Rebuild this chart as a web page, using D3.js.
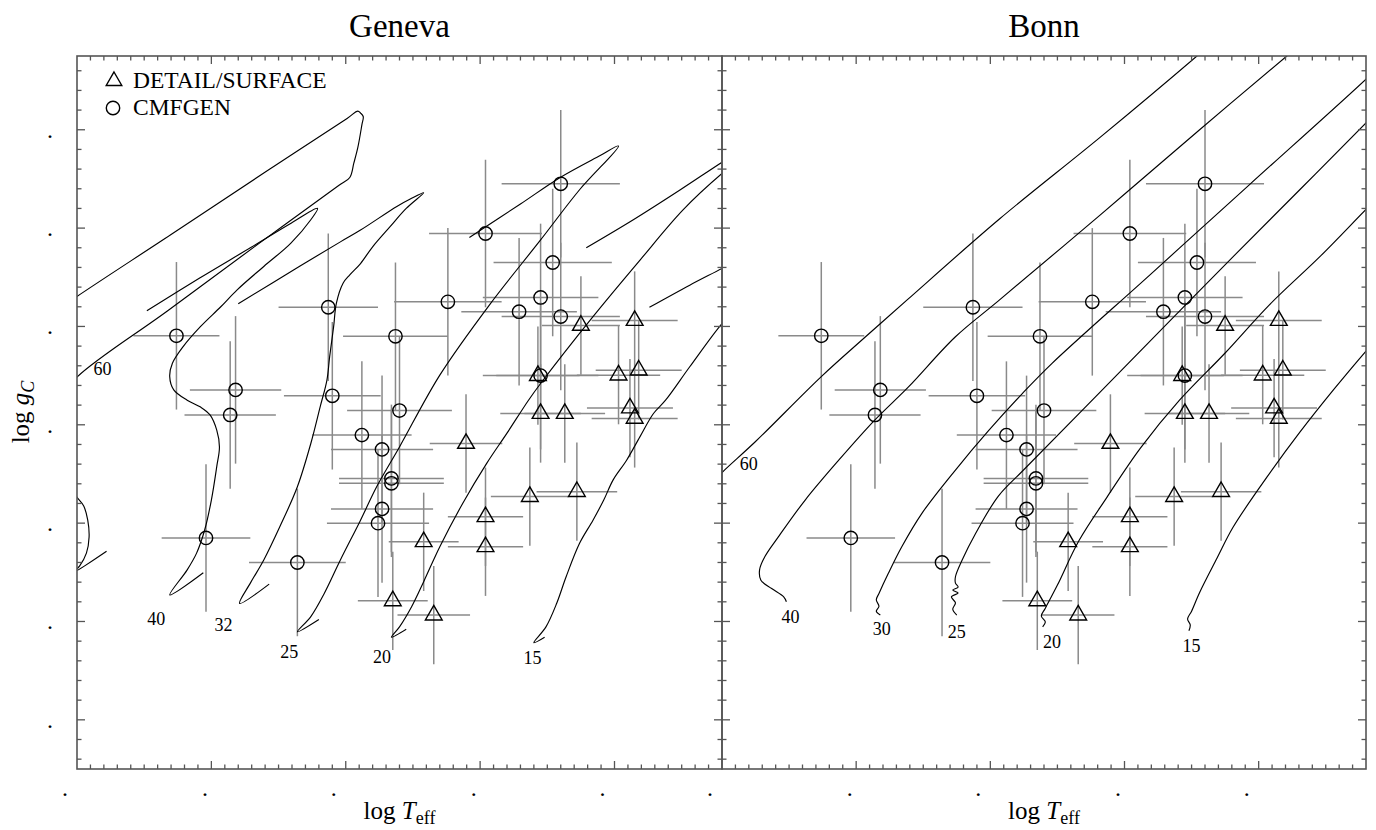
<!DOCTYPE html>
<html>
<head>
<meta charset="utf-8">
<script src="https://cdn.jsdelivr.net/npm/d3@7"></script>
<style>
body { margin: 0; background: #fff; }
text { font-family: "Liberation Serif", "DejaVu Serif", serif; fill: #000; }
.frame { fill: none; stroke: #555; stroke-width: 1.6; }
.tick { stroke: #555; stroke-width: 1.3; }
.track { fill: none; stroke: #000; stroke-width: 1.15; }
.err { stroke: #8a8a8a; stroke-width: 1.5; }
.mark { fill: none; stroke: #000; stroke-width: 1.4; }
</style>
</head>
<body>
<script>
// axis domains and ticks
const logTeffDomain = [4.70, 4.22];
const logGDomain = [4.5, 3.05];
const xMajorTicks = [4.7, 4.6, 4.5, 4.4, 4.3];
const yMajorTicks = [3.2, 3.4, 3.6, 3.8, 4.0, 4.2, 4.4];
const xTickLabels = [".", ".", ".", ".", "."];
const yTickLabels = [".", ".", ".", ".", ".", ".", "."];

// CMFGEN (circles)
const cmfgenTeff = [4.626, 4.582, 4.586, 4.604, 4.536, 4.513, 4.510, 4.463, 4.488, 4.473, 4.466, 4.466,
    4.473, 4.476, 4.460, 4.424, 4.396, 4.371, 4.355, 4.346, 4.340, 4.340, 4.355];
const cmfgenLogg = [3.619, 3.729, 3.780, 4.030, 4.080, 3.561, 3.741, 3.620, 3.821, 3.850, 3.909, 3.919,
    3.971, 4.000, 3.771, 3.550, 3.411, 3.570, 3.541, 3.470, 3.310, 3.580, 3.700];
const cmfgenTeffErr = [0.032, 0.034, 0.034, 0.033, 0.036, 0.037, 0.036, 0.039, 0.037, 0.038, 0.039, 0.039,
    0.038, 0.038, 0.039, 0.040, 0.042, 0.043, 0.043, 0.044, 0.044, 0.044, 0.043];
const cmfgenLoggErr = 0.15;

// DETAIL/SURFACE (triangles)
const detailTeff = [4.325, 4.285, 4.297, 4.282, 4.357, 4.355, 4.337, 4.2885, 4.285, 4.4105, 4.363, 4.328,
    4.396, 4.396, 4.442, 4.465, 4.4345];
const detailLogg = [3.598, 3.588, 3.699, 3.689, 3.700, 3.777, 3.777, 3.766, 3.787, 3.838, 3.946, 3.936,
    3.987, 4.048, 4.038, 4.158, 4.187];
const detailTeffErr = [0.029, 0.032, 0.031, 0.032, 0.031, 0.030, 0.030, 0.032, 0.032, 0.027, 0.029, 0.030,
    0.028, 0.028, 0.026, 0.026, 0.027];
const detailLoggErr = 0.10;

// Geneva tracks [logTeff, log g]
const genevaMasses = ["60", "40", "32", "25", "20", "15"];
const genevaLabelPos = [[4.681, 3.685], [4.641, 4.194], [4.591, 4.207], [4.542, 4.261], [4.473, 4.272], [4.361, 4.273]];
const genevaTrack60 = [[4.678, 4.057], [4.702, 4.099], [4.698, 4.087], [4.693, 4.061], [4.691, 4.028], [4.692, 3.994],
    [4.695, 3.965], [4.701, 3.943], [4.716, 3.831], [4.713, 3.750], [4.700, 3.703], [4.633, 3.569], [4.565, 3.432],
    [4.505, 3.313], [4.497, 3.297], [4.494, 3.268], [4.491, 3.236], [4.488, 3.190], [4.487, 3.173], [4.489, 3.166],
    [4.491, 3.162], [4.499, 3.177], [4.561, 3.288], [4.630, 3.413], [4.700, 3.539], [4.713, 3.564]];
const genevaTrack40 = [[4.606, 4.101], [4.631, 4.146], [4.618, 4.095], [4.611, 4.061], [4.605, 4.014], [4.600, 3.953],
    [4.596, 3.885], [4.594, 3.845], [4.596, 3.811], [4.601, 3.780], [4.608, 3.764], [4.618, 3.750], [4.628, 3.729],
    [4.631, 3.702], [4.629, 3.675], [4.621, 3.641], [4.608, 3.600], [4.593, 3.560], [4.581, 3.526], [4.561, 3.478],
    [4.541, 3.431], [4.526, 3.383], [4.521, 3.360], [4.542, 3.392], [4.571, 3.440], [4.609, 3.502], [4.648, 3.568]];
const genevaTrack32 = [[4.557, 4.124], [4.579, 4.163], [4.571, 4.122], [4.561, 4.075], [4.549, 4.007], [4.536, 3.926],
    [4.526, 3.838], [4.519, 3.763], [4.514, 3.709], [4.512, 3.662], [4.509, 3.600], [4.507, 3.553], [4.502, 3.512],
    [4.497, 3.495], [4.489, 3.472], [4.480, 3.438], [4.467, 3.397], [4.455, 3.360], [4.442, 3.328], [4.452, 3.341],
    [4.462, 3.356], [4.489, 3.404], [4.504, 3.428], [4.534, 3.477], [4.580, 3.554]];
const genevaTrack25 = [[4.520, 4.196], [4.536, 4.221], [4.526, 4.190], [4.516, 4.143], [4.504, 4.075], [4.489, 3.994],
    [4.477, 3.926], [4.460, 3.845], [4.430, 3.699], [4.393, 3.556], [4.355, 3.424], [4.326, 3.322], [4.297, 3.233],
    [4.311, 3.253], [4.341, 3.298], [4.370, 3.351], [4.408, 3.419]];
const genevaTrack20 = [[4.455, 4.216], [4.466, 4.232], [4.460, 4.211], [4.451, 4.170], [4.442, 4.119], [4.430, 4.048],
    [4.413, 3.960], [4.395, 3.878], [4.380, 3.817], [4.364, 3.750], [4.355, 3.716], [4.316, 3.580], [4.281, 3.465],
    [4.249, 3.363], [4.220, 3.289], [4.203, 3.253], [4.192, 3.231], [4.203, 3.237], [4.220, 3.266], [4.251, 3.322],
    [4.286, 3.383], [4.321, 3.440]];
const genevaTrack15 = [[4.352, 4.232], [4.360, 4.243], [4.351, 4.211], [4.343, 4.163], [4.336, 4.109], [4.326, 4.041],
    [4.316, 3.994], [4.308, 3.953], [4.301, 3.912], [4.291, 3.872], [4.281, 3.824], [4.271, 3.777], [4.262, 3.750],
    [4.244, 3.682], [4.220, 3.594], [4.203, 3.546], [4.192, 3.526], [4.203, 3.457], [4.220, 3.482], [4.244, 3.516],
    [4.274, 3.561]];

// Bonn tracks
const bonnMasses = ["60", "40", "30", "25", "20", "15"];
const bonnLabelPos = [[4.680, 3.880], [4.649, 4.190], [4.581, 4.214], [4.525, 4.221], [4.454, 4.242], [4.350, 4.250]];
const bonnTrack60 = [[4.716, 3.941], [4.700, 3.897], [4.675, 3.834], [4.626, 3.702], [4.593, 3.621], [4.562, 3.546],
    [4.493, 3.381], [4.418, 3.215], [4.346, 3.050], [4.333, 3.019]];
const bonnTrack40 = [[4.652, 4.160], [4.654, 4.150], [4.663, 4.133], [4.671, 4.116], [4.672, 4.095], [4.668, 4.068],
    [4.658, 4.028], [4.638, 3.953], [4.613, 3.872], [4.586, 3.790], [4.561, 3.723], [4.526, 3.621], [4.494, 3.548],
    [4.418, 3.373], [4.344, 3.200], [4.279, 3.050], [4.269, 3.028]];
const bonnTrack30 = [[4.582, 4.187], [4.585, 4.179], [4.583, 4.169], [4.585, 4.156], [4.583, 4.143], [4.576, 4.102],
    [4.566, 4.048], [4.551, 3.980], [4.526, 3.892], [4.501, 3.811], [4.476, 3.736], [4.454, 3.675], [4.381, 3.495],
    [4.307, 3.312], [4.220, 3.097], [4.210, 3.070]];
const bonnTrack25 = [[4.525, 4.187], [4.528, 4.175], [4.526, 4.162], [4.529, 4.150], [4.524, 4.142], [4.528, 4.136],
    [4.524, 4.130], [4.526, 4.122], [4.526, 4.109], [4.521, 4.075], [4.511, 4.021], [4.494, 3.945], [4.476, 3.894],
    [4.418, 3.733], [4.344, 3.527], [4.269, 3.321], [4.220, 3.186], [4.210, 3.158]];
const bonnTrack20 = [[4.461, 4.211], [4.459, 4.201], [4.462, 4.189], [4.459, 4.173], [4.450, 4.126], [4.434, 4.036],
    [4.413, 3.947], [4.388, 3.847], [4.359, 3.750], [4.325, 3.654], [4.292, 3.556], [4.254, 3.457], [4.220, 3.362],
    [4.210, 3.335]];
const bonnTrack15 = [[4.352, 4.219], [4.351, 4.207], [4.353, 4.195], [4.350, 4.179], [4.344, 4.141], [4.331, 4.071],
    [4.319, 4.008], [4.294, 3.907], [4.269, 3.814], [4.244, 3.728], [4.220, 3.650], [4.210, 3.619]];

const legendLabels = ["DETAIL/SURFACE", "CMFGEN"];

// layout
const width = 1376, height = 830;
const plotTop = 56, plotBottom = 769;
const panels = [
    { title: "Geneva", left: 77, right: 722, masses: genevaMasses, labelPos: genevaLabelPos,
      tracks: [genevaTrack60, genevaTrack40, genevaTrack32, genevaTrack25, genevaTrack20, genevaTrack15] },
    { title: "Bonn", left: 722, right: 1366, masses: bonnMasses, labelPos: bonnLabelPos,
      tracks: [bonnTrack60, bonnTrack40, bonnTrack30, bonnTrack25, bonnTrack20, bonnTrack15] }
];

const svg = d3.select("body").append("svg")
    .attr("width", width)
    .attr("height", height);
svg.append("rect").attr("width", width).attr("height", height).attr("fill", "#fff");

const cmfgen = cmfgenTeff.map((t, i) => ({ t: t, g: cmfgenLogg[i], et: cmfgenTeffErr[i], eg: cmfgenLoggErr }));
const detail = detailTeff.map((t, i) => ({ t: t, g: detailLogg[i], et: detailTeffErr[i], eg: detailLoggErr }));

const xMinor = d3.range(1, 48).map(i => +(logTeffDomain[0] - i * 0.01).toFixed(3));
const yMinor = d3.range(0, 36).map(i => +(3.08 + i * 0.04).toFixed(3));
const isMajor = (v, list) => list.some(m => Math.abs(m - v) < 1e-6);

const triangle = d3.symbol().type(d3.symbolTriangle).size(122);

panels.forEach(function (p, pi) {
    const x = d3.scaleLinear().domain(logTeffDomain).range([p.left, p.right]);
    const y = d3.scaleLinear().domain(logGDomain).range([plotBottom, plotTop]);

    const clipId = "clip" + pi;
    svg.append("clipPath").attr("id", clipId)
        .append("rect")
        .attr("x", p.left).attr("y", plotTop)
        .attr("width", p.right - p.left).attr("height", plotBottom - plotTop);

    const g = svg.append("g").attr("clip-path", "url(#" + clipId + ")");

    // error bars
    const allPts = cmfgen.concat(detail);
    g.selectAll(null).data(allPts).enter().append("line")
        .attr("class", "err")
        .attr("x1", d => x(d.t + d.et)).attr("x2", d => x(d.t - d.et))
        .attr("y1", d => y(d.g)).attr("y2", d => y(d.g));
    g.selectAll(null).data(allPts).enter().append("line")
        .attr("class", "err")
        .attr("x1", d => x(d.t)).attr("x2", d => x(d.t))
        .attr("y1", d => y(d.g - d.eg)).attr("y2", d => y(d.g + d.eg));

    // evolutionary tracks
    const line = d3.line()
        .x(d => x(d[0]))
        .y(d => y(d[1]))
        .curve(d3.curveCatmullRom.alpha(0.5));
    p.tracks.forEach(function (tr) {
        g.append("path").attr("class", "track").attr("d", line(tr));
    });

    // markers
    g.selectAll(null).data(cmfgen).enter().append("circle")
        .attr("class", "mark")
        .attr("cx", d => x(d.t)).attr("cy", d => y(d.g)).attr("r", 6.7);
    g.selectAll(null).data(detail).enter().append("path")
        .attr("class", "mark")
        .attr("d", triangle)
        .attr("transform", d => "translate(" + x(d.t) + "," + y(d.g) + ")");

    // mass labels
    svg.selectAll(null).data(p.masses).enter().append("text")
        .attr("x", (d, i) => x(p.labelPos[i][0]))
        .attr("y", (d, i) => y(p.labelPos[i][1]))
        .attr("dy", "0.35em")
        .attr("text-anchor", "middle")
        .style("font-size", "18px")
        .text(d => d);

    // frame
    svg.append("rect").attr("class", "frame")
        .attr("x", p.left).attr("y", plotTop)
        .attr("width", p.right - p.left).attr("height", plotBottom - plotTop);

    // x ticks (top & bottom, inward)
    xMinor.forEach(function (v) {
        const len = isMajor(v, xMajorTicks) ? 8 : 4.5;
        svg.append("line").attr("class", "tick")
            .attr("x1", x(v)).attr("x2", x(v))
            .attr("y1", plotBottom).attr("y2", plotBottom - len);
        svg.append("line").attr("class", "tick")
            .attr("x1", x(v)).attr("x2", x(v))
            .attr("y1", plotTop).attr("y2", plotTop + len);
    });
    // y ticks (left & right, inward)
    yMinor.forEach(function (v) {
        const len = isMajor(v, yMajorTicks) ? 8 : 4.5;
        svg.append("line").attr("class", "tick")
            .attr("x1", p.left).attr("x2", p.left + len)
            .attr("y1", y(v)).attr("y2", y(v));
        svg.append("line").attr("class", "tick")
            .attr("x1", p.right).attr("x2", p.right - len)
            .attr("y1", y(v)).attr("y2", y(v));
    });

    // x tick labels
    svg.selectAll(null).data(xMajorTicks).enter().append("text")
        .attr("x", (d, i) => x(d) + (i % 2 ? -6.5 : -12))
        .attr("y", 796)
        .attr("text-anchor", "middle")
        .style("font-size", "24px")
        .text((d, i) => xTickLabels[i]);

    if (pi === 0) {
        svg.selectAll(null).data(yMajorTicks).enter().append("text")
            .attr("x", 50)
            .attr("y", d => y(d) + 8)
            .attr("text-anchor", "middle")
            .style("font-size", "24px")
            .text((d, i) => yTickLabels[i]);
    }

    // title
    svg.append("text")
        .attr("x", (p.left + p.right) / 2)
        .attr("y", 37)
        .attr("text-anchor", "middle")
        .style("font-size", "33px")
        .text(p.title);

    // x axis label
    const xl = svg.append("text")
        .attr("x", (p.left + p.right) / 2)
        .attr("y", 819)
        .attr("text-anchor", "middle")
        .style("font-size", "25px");
    xl.append("tspan").text("log ");
    xl.append("tspan").style("font-style", "italic").text("T");
    xl.append("tspan").attr("dy", 5).style("font-size", "18px").text("eff");
});

// y axis label
const yl = svg.append("text")
    .attr("transform", "translate(29,412) rotate(-90)")
    .attr("text-anchor", "middle")
    .style("font-size", "25px");
yl.append("tspan").text("log ");
yl.append("tspan").style("font-style", "italic").text("g");
yl.append("tspan").attr("dy", 5).style("font-style", "italic").style("font-size", "18px").text("C");

// legend
const legend = svg.append("g");
legend.append("path").attr("class", "mark")
    .attr("d", triangle.size(105)())
    .attr("transform", "translate(114,81)");
legend.append("circle").attr("class", "mark")
    .attr("cx", 113).attr("cy", 108).attr("r", 6.7);
legend.selectAll(null).data(legendLabels).enter().append("text")
    .attr("x", 133)
    .attr("y", (d, i) => 88 + i * 27)
    .style("font-size", "23.5px")
    .text(d => d);
</script>
</body>
</html>
